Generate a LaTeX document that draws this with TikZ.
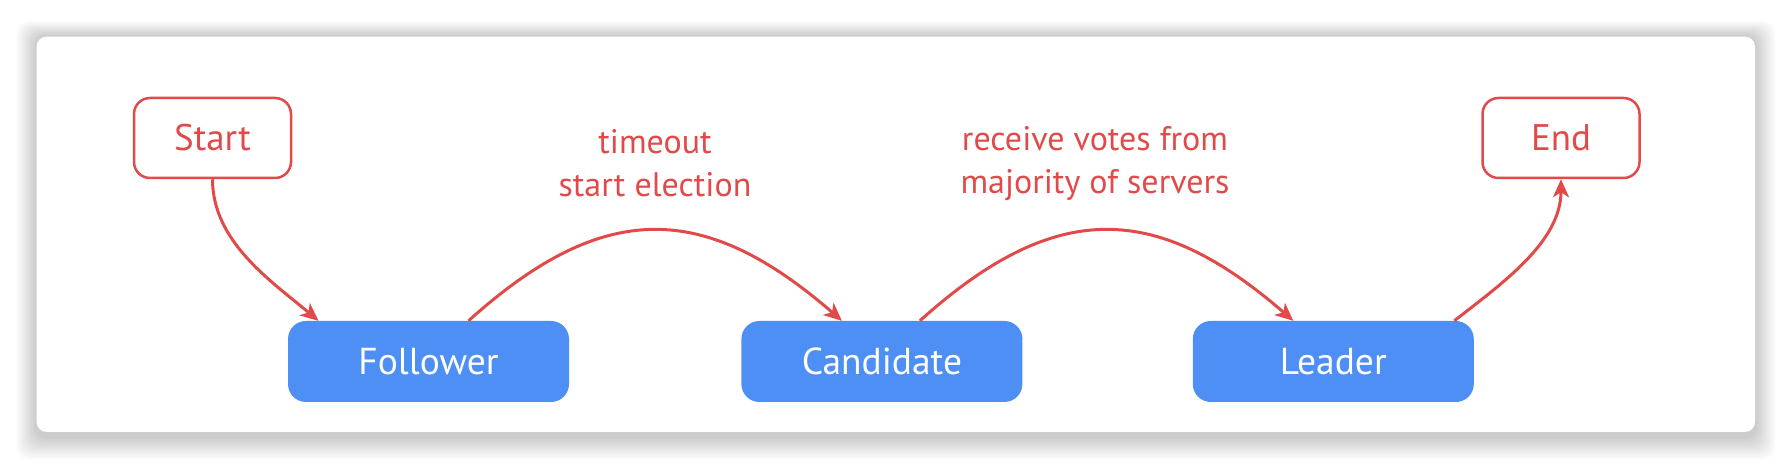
\documentclass[tikz,border=0pt]{standalone}
\usepackage{fontspec}
\setmainfont{PT Sans}
\usetikzlibrary{arrows.meta,positioning}
\definecolor{piros}{RGB}{226,74,74}
\definecolor{kek}{RGB}{77,143,245}
\tikzset{
  endbox/.style={draw=piros,line width=2.5pt,rounded corners=16pt,fill=white,text=piros,
                 minimum width=157pt,minimum height=80pt,font=\fontsize{37}{42}\selectfont},
  statebox/.style={fill=kek,rounded corners=18pt,text=white,
                   minimum width=281pt,minimum height=81pt,font=\fontsize{37.5}{42}\selectfont},
  nyil/.style={-{Stealth[length=18pt,width=16pt,inset=5pt]},draw=piros,line width=3pt},
  cimke/.style={text=piros,align=center,font=\fontsize{34}{43}\selectfont},
}
\begin{document}
\begin{tikzpicture}[x=1pt,y=1pt]
  \useasboundingbox (0,0) rectangle (1792,468);
  \fill[white] (0,0) rectangle (1792,468);
  % card with soft shadow
  \foreach \i in {1,...,10}
    \fill[black,opacity=0.02,rounded corners=12pt] (36.6-2*\i,31-2.2*\i) rectangle (1755+2*\i,431.4+1.5*\i);
  \fill[white,rounded corners=10pt] (36.6,36) rectangle (1755,431.4);

  \node[endbox] (start) at (212.5,330) {Start};
  \node[endbox] (end) at (1561,330) {End};
  \node[statebox] (follower) at (428.5,106.5) {Follower};
  \node[statebox,right=172pt of follower] (candidate) {Candidate};
  \node[statebox,right=170pt of candidate] (leader) {Leader};

  \node[cimke] (l1) at (655,304.5) {timeout\\start election};
  \node[cimke] (l2) at (1095,304.5) {receive votes from\\majority of servers};

  \draw[nyil] (start.south) to[out=-90,in=140,looseness=0.9] ([xshift=-110pt]follower.north);
  \draw[nyil] ([xshift=40pt]follower.north) to[out=42,in=139,looseness=1.25] ([xshift=-40pt]candidate.north);
  \draw[nyil] ([xshift=38pt]candidate.north) to[out=42,in=139,looseness=1.25] ([xshift=-40pt]leader.north);
  \draw[nyil] ([xshift=121pt]leader.north) to[out=38,in=-90,looseness=0.9] (end.south);
\end{tikzpicture}
\end{document}
